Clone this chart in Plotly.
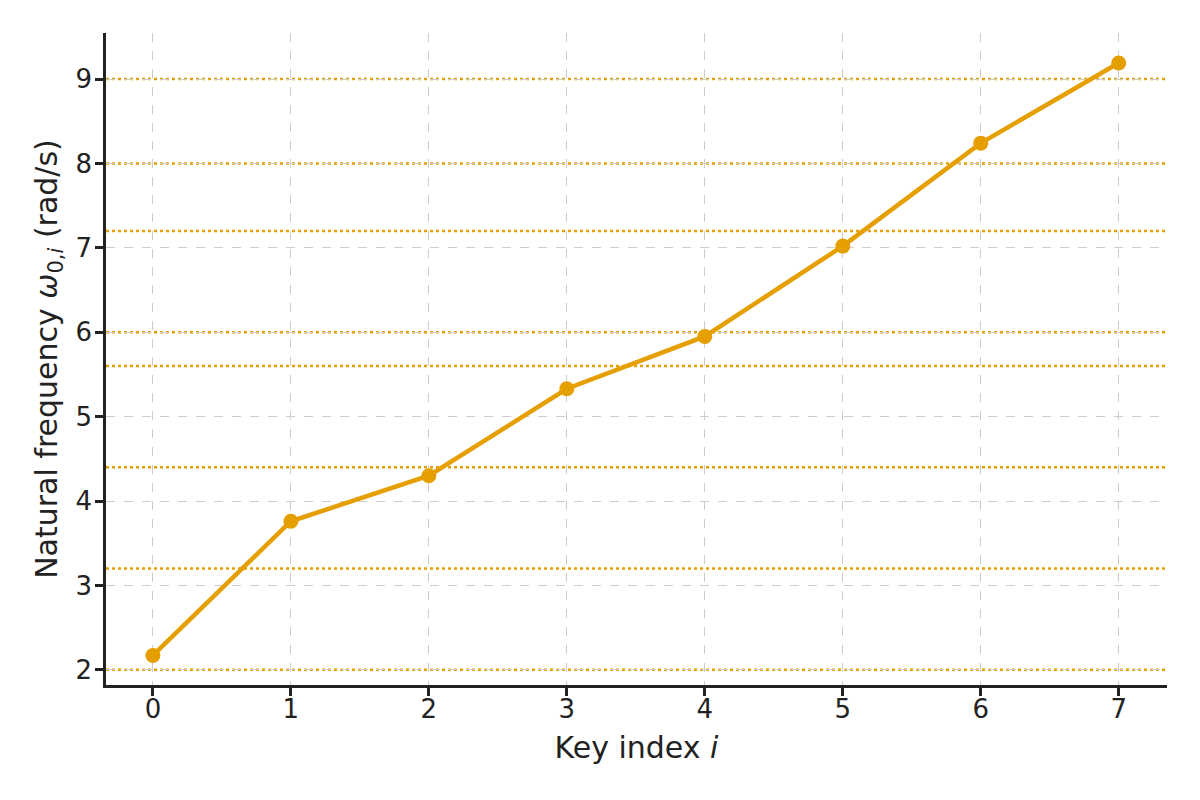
import plotly.graph_objects as go

key_index = [0, 1, 2, 3, 4, 5, 6, 7]
omega = [2.17, 3.76, 4.30, 5.33, 5.95, 7.02, 8.24, 9.19]
ref_levels = [2.0, 3.2, 4.4, 5.6, 6.0, 7.2, 8.0, 9.0]
x_ticks = [0, 1, 2, 3, 4, 5, 6, 7]
y_ticks = [2, 3, 4, 5, 6, 7, 8, 9]

ORANGE = "#E69F00"
FONT = "DejaVu Sans"
INK = "#222222"

fig = go.Figure()
fig.add_trace(go.Scatter(
    x=key_index, y=omega, mode="lines+markers",
    line=dict(color=ORANGE, width=4.5),
    marker=dict(color=ORANGE, size=15),
    showlegend=False,
))

for lv in ref_levels:
    fig.add_shape(type="line", xref="paper", x0=0, x1=1, yref="y", y0=lv, y1=lv,
                  line=dict(color=ORANGE, width=2.5, dash="dot"), layer="between")

axis_common = dict(
    showline=True, linecolor=INK, linewidth=2.5,
    ticks="outside", ticklen=8, tickwidth=2.5, tickcolor=INK,
    showgrid=True, gridcolor="#cccccc", griddash="dash", gridwidth=1.2,
    zeroline=False, mirror=False,
    tickfont=dict(family=FONT, size=26, color=INK),
)

fig.update_xaxes(range=[-0.34, 7.35], tickvals=x_ticks, ticklabelstandoff=-9,
                 title=dict(text="Key index <i>i</i>", font=dict(family=FONT, size=30, color=INK), standoff=15),
                 **axis_common)
fig.update_yaxes(range=[1.82, 9.545], tickvals=y_ticks, ticklabelstandoff=-2,
                 title=dict(text="Natural frequency <i>ω</i><sub>0,<i>i</i></sub> (rad/s)", font=dict(family=FONT, size=30, color=INK), standoff=10),
                 **axis_common)

fig.update_layout(
    width=1200, height=800,
    margin=dict(l=98, r=41, t=25, b=123, autoexpand=False),
    plot_bgcolor="white", paper_bgcolor="white",
    font=dict(family=FONT, color=INK),
)

fig.write_html("out.html")
